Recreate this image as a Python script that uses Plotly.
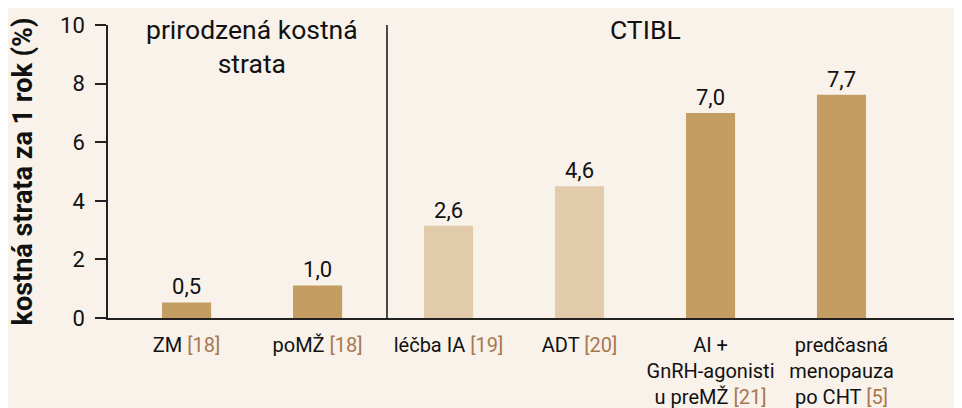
import plotly.graph_objects as go

# data
categories = [
    "ZM <span style='color:#A8784F'>[18]</span>",
    "poMŽ <span style='color:#A8784F'>[18]</span>",
    "léčba IA <span style='color:#A8784F'>[19]</span>",
    "ADT <span style='color:#A8784F'>[20]</span>",
    "AI +<br>GnRH-agonisti<br>u preMŽ <span style='color:#A8784F'>[21]</span>",
    "predčasná<br>menopauza<br>po CHT <span style='color:#A8784F'>[5]</span>",
]
bar_values = [0.53, 1.11, 3.15, 4.5, 7.0, 7.62]
value_labels = ["0,5", "1,0", "2,6", "4,6", "7,0", "7,7"]
bar_colors = ["#C49D62", "#C49D62", "#E2CBAB", "#E2CBAB", "#C49D62", "#C49D62"]
y_ticks = [0, 2, 4, 6, 8, 10]
group_titles = ["prirodzená kostná<br>strata", "CTIBL"]
group_centers = [0.5, 3.5]
separator_x = 1.53
y_title = "kostná strata za 1 rok (%)"

FONT = "Roboto"
BG = "#F8F2EB"

x_idx = list(range(len(categories)))

fig = go.Figure()
fig.add_trace(go.Bar(
    x=x_idx, y=bar_values,
    marker=dict(color=bar_colors, line=dict(width=0)),
    width=0.375,
    text=value_labels, textposition="outside",
    textfont=dict(family=FONT, size=22, color="#111"),
    cliponaxis=False,
    hoverinfo="skip",
))

fig.add_shape(type="line", xref="x", yref="y", x0=separator_x, x1=separator_x,
              y0=0, y1=10, line=dict(color="#111", width=1.5))

for t, cx in zip(group_titles, group_centers):
    fig.add_annotation(x=cx, xref="x", y=1, yref="paper", yanchor="top",
                       yshift=13, text=t, showarrow=False,
                       font=dict(family=FONT, size=26.5, color="#111"))

fig.add_annotation(x=0, xref="paper", y=0.5, yref="paper", xanchor="center",
                   xshift=-86,
                   text="<b>" + y_title + "</b>", textangle=-90, showarrow=False,
                   font=dict(family=FONT, size=27, color="#111"))

fig.update_layout(
    width=962, height=408,
    margin=dict(l=100, r=8, t=17, b=98),
    paper_bgcolor=BG, plot_bgcolor=BG,
    showlegend=False,
    font=dict(family=FONT, color="#111"),
    xaxis=dict(
        range=[-0.6, 5.92], tickvals=x_idx, ticktext=categories,
        showline=True, linecolor="#222", linewidth=1.5,
        ticks="", showgrid=False, zeroline=False, automargin=False,
        tickfont=dict(family=FONT, size=20, color="#111"),
        ticklabelstandoff=8,
    ),
    yaxis=dict(
        range=[0, 10], tickvals=y_ticks, ticktext=[str(v) for v in y_ticks],
        showline=True, linecolor="#222", linewidth=1.5,
        ticks="outside", ticklen=11, tickcolor="#222", tickwidth=1.5,
        showgrid=False, zeroline=False, automargin=False,
        tickfont=dict(family=FONT, size=22, color="#111"),
        ticklabelstandoff=6,
    ),
)

fig.write_html("out.html")
